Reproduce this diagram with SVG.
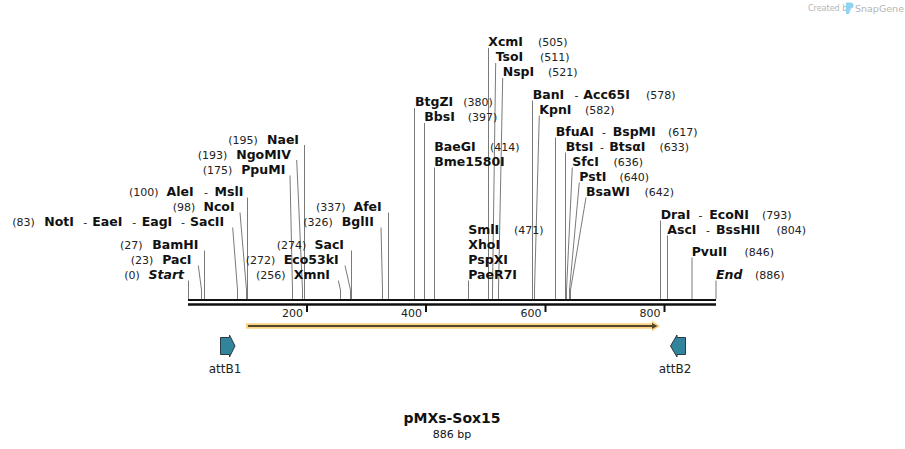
<svg xmlns="http://www.w3.org/2000/svg" width="905" height="449" viewBox="0 0 905 449">
<style>
text{font-family:"DejaVu Sans","Liberation Sans",sans-serif;fill:#111}
.n{font-size:12.5px;font-weight:bold}
.i{font-size:12.5px;font-weight:bold;font-style:italic}
.p{font-size:11px;fill:#222}
.h{font-size:11px;fill:#222}
.c line,.c polyline{stroke:#7a7a7a;stroke-width:1;fill:none}
.bb{stroke:#111;fill:none}
.tk{stroke:#111;stroke-width:2}
.tl{font-size:11px;text-anchor:end;fill:#222}
.fl{font-size:12px;text-anchor:middle;fill:#222}
.att{fill:#32849c;stroke:#2a3b42;stroke-width:1}
.logo{fill:#b4b4b4}
</style>

<!-- logo -->
<g id="logo">
<text class="logo" x="808" y="11" font-size="8">Created by</text>
<path d="M846 2.5h4.5a3 3 0 0 1 0 6h-1.5v5.5h-3z" fill="#8fd3f2"/>
<text class="logo" x="855" y="11.5" font-size="9.5">SnapGene</text>
</g>

<!-- backbone -->
<g id="backbone">
<line class="bb" x1="188" y1="300" x2="716" y2="300" stroke-width="2"/>
<line class="bb" x1="188" y1="304.5" x2="716" y2="304.5" stroke-width="2.5"/>
<line class="tk" x1="307" y1="304" x2="307" y2="312"/>
<line class="tk" x1="426" y1="304" x2="426" y2="312"/>
<line class="tk" x1="545.5" y1="304" x2="545.5" y2="312"/>
<line class="tk" x1="664.5" y1="304" x2="664.5" y2="312"/>
<text class="tl" x="303" y="316.5">200</text>
<text class="tl" x="422" y="316.5">400</text>
<text class="tl" x="541.5" y="316.5">600</text>
<text class="tl" x="660.5" y="316.5">800</text>
</g>

<!-- connectors -->
<g id="connectors" class="c">
<line x1="304.5" y1="145" x2="304.5" y2="299"/>
<polyline points="296.7,160 302.5,290 302.5,299"/>
<polyline points="290,175.5 292.5,290 292.5,299"/>
<line x1="247.5" y1="197.5" x2="247.5" y2="299"/>
<polyline points="240,212.5 246.5,290 246.5,299"/>
<polyline points="232.7,227.5 237.5,290 237.5,299"/>
<line x1="204.5" y1="250.5" x2="204.5" y2="299"/>
<polyline points="198.3,265.5 201.5,290 201.5,299"/>
<line x1="188.5" y1="280.5" x2="188.5" y2="299"/>
<line x1="388.5" y1="212.5" x2="388.5" y2="299"/>
<polyline points="381,227.5 382.5,290 382.5,299"/>
<line x1="351.5" y1="250.5" x2="351.5" y2="299"/>
<polyline points="345,265.5 350.5,290 350.5,299"/>
<polyline points="338.3,280.5 340.5,290 340.5,299"/>
<line x1="488.5" y1="48" x2="488.5" y2="299"/>
<polyline points="495.7,63 492.5,290 492.5,299"/>
<polyline points="502.7,78 498.5,290 498.5,299"/>
<line x1="414.5" y1="108" x2="414.5" y2="299"/>
<line x1="424.5" y1="123" x2="424.5" y2="299"/>
<line x1="434.5" y1="167.5" x2="434.5" y2="299"/>
<line x1="468.5" y1="280.5" x2="468.5" y2="299"/>
<line x1="532.5" y1="100.5" x2="532.5" y2="299"/>
<polyline points="539.3,115.5 534.5,290 534.5,299"/>
<line x1="555.5" y1="137.5" x2="555.5" y2="299"/>
<line x1="565.5" y1="152.5" x2="565.5" y2="299"/>
<polyline points="572.3,167.5 566.5,290 566.5,299"/>
<polyline points="579.3,182.5 569.5,290 569.5,299"/>
<polyline points="586,197.5 570.5,290 570.5,299"/>
<line x1="660.5" y1="220.5" x2="660.5" y2="299"/>
<line x1="667.5" y1="235.5" x2="667.5" y2="299"/>
<line x1="692" y1="257.5" x2="692" y2="299"/>
<line x1="716" y1="280.5" x2="716" y2="299"/>
</g>

<!-- left enzyme labels -->
<g id="NaeI"><text class="p" x="228.3" y="143.5">(195)</text><text class="n" x="267" y="143.5">NaeI</text></g>
<g id="NgoMIV"><text class="p" x="197.7" y="158.5">(193)</text><text class="n" x="236.2" y="158.5">NgoMIV</text></g>
<g id="PpuMI"><text class="p" x="202.7" y="173.5">(175)</text><text class="n" x="241.2" y="173.5">PpuMI</text></g>
<g id="AleI"><text class="p" x="129" y="195.5">(100)</text><text class="n" x="166.5" y="195.5">AleI</text><text class="h" x="204" y="195.5">-</text><text class="n" x="214.5" y="195.5">MslI</text></g>
<g id="NcoI"><text class="p" x="172.7" y="210.5">(98)</text><text class="n" x="203.5" y="210.5">NcoI</text></g>
<g id="NotI"><text class="p" x="12.3" y="225.5">(83)</text><text class="n" x="44.3" y="225.5">NotI</text><text class="h" x="83.3" y="225.5">-</text><text class="n" x="92.3" y="225.5">EaeI</text><text class="h" x="132.3" y="225.5">-</text><text class="n" x="141.7" y="225.5">EagI</text><text class="h" x="181" y="225.5">-</text><text class="n" x="190" y="225.5">SacII</text></g>
<g id="BamHI"><text class="p" x="120" y="248.5">(27)</text><text class="n" x="152.2" y="248.5">BamHI</text></g>
<g id="PacI"><text class="p" x="130.7" y="263.5">(23)</text><text class="n" x="162.2" y="263.5">PacI</text></g>
<g id="Start"><text class="p" x="124.3" y="278.5">(0)</text><text class="i" x="148.5" y="278.5">Start</text></g>
<g id="AfeI"><text class="p" x="316" y="210.5">(337)</text><text class="n" x="353.5" y="210.5">AfeI</text></g>
<g id="BglII"><text class="p" x="303.3" y="225.5">(326)</text><text class="n" x="341.8" y="225.5">BglII</text></g>
<g id="SacI"><text class="p" x="276.7" y="248.5">(274)</text><text class="n" x="314.5" y="248.5">SacI</text></g>
<g id="Eco53kI"><text class="p" x="245.7" y="263.5">(272)</text><text class="n" x="283.8" y="263.5">Eco53kI</text></g>
<g id="XmnI"><text class="p" x="256" y="278.5">(256)</text><text class="n" x="293.8" y="278.5">XmnI</text></g>

<!-- middle / right enzyme labels -->
<g id="XcmI"><text class="n" x="488.3" y="46">XcmI</text><text class="p" x="538" y="46">(505)</text></g>
<g id="TsoI"><text class="n" x="495.7" y="61">TsoI</text><text class="p" x="540" y="61">(511)</text></g>
<g id="NspI"><text class="n" x="502.7" y="76">NspI</text><text class="p" x="548" y="76">(521)</text></g>
<g id="BtgZI"><text class="n" x="415" y="106">BtgZI</text><text class="p" x="463.3" y="106">(380)</text></g>
<g id="BbsI"><text class="n" x="424.3" y="121">BbsI</text><text class="p" x="467.7" y="121">(397)</text></g>
<g id="BaeGI"><text class="n" x="434.3" y="150.5">BaeGI</text><text class="p" x="490" y="150.5">(414)</text><text class="n" x="434.3" y="165.5">Bme1580I</text></g>
<g id="SmlI"><text class="n" x="468.3" y="233.5">SmlI</text><text class="p" x="514" y="233.5">(471)</text><text class="n" x="468.3" y="248.5">XhoI</text><text class="n" x="468.3" y="263.5">PspXI</text><text class="n" x="468.3" y="278.5">PaeR7I</text></g>
<g id="BanI"><text class="n" x="532.7" y="98.5">BanI</text><text class="h" x="574.5" y="98.5">-</text><text class="n" x="583.3" y="98.5">Acc65I</text><text class="p" x="646" y="98.5">(578)</text></g>
<g id="KpnI"><text class="n" x="539.3" y="113.5">KpnI</text><text class="p" x="585" y="113.5">(582)</text></g>
<g id="BfuAI"><text class="n" x="555.7" y="135.5">BfuAI</text><text class="h" x="602" y="135.5">-</text><text class="n" x="612.7" y="135.5">BspMI</text><text class="p" x="668" y="135.5">(617)</text></g>
<g id="BtsI"><text class="n" x="565.7" y="150.5">BtsI</text><text class="h" x="600" y="150.5">-</text><text class="n" x="609.3" y="150.5">BtsαI</text><text class="p" x="659.5" y="150.5">(633)</text></g>
<g id="SfcI"><text class="n" x="572.3" y="165.5">SfcI</text><text class="p" x="613.5" y="165.5">(636)</text></g>
<g id="PstI"><text class="n" x="579.3" y="180.5">PstI</text><text class="p" x="619.5" y="180.5">(640)</text></g>
<g id="BsaWI"><text class="n" x="586" y="195.5">BsaWI</text><text class="p" x="644.5" y="195.5">(642)</text></g>
<g id="DraI"><text class="n" x="660.7" y="218.5">DraI</text><text class="h" x="698.5" y="218.5">-</text><text class="n" x="709.3" y="218.5">EcoNI</text><text class="p" x="762" y="218.5">(793)</text></g>
<g id="AscI"><text class="n" x="667.3" y="233.5">AscI</text><text class="h" x="706" y="233.5">-</text><text class="n" x="716" y="233.5">BssHII</text><text class="p" x="776.5" y="233.5">(804)</text></g>
<g id="PvuII"><text class="n" x="691.7" y="255.5">PvuII</text><text class="p" x="744.5" y="255.5">(846)</text></g>
<g id="End"><text class="i" x="716" y="278.5">End</text><text class="p" x="755" y="278.5">(886)</text></g>

<!-- ORF -->
<g id="orf">
<line x1="246" y1="326" x2="654" y2="326" stroke="#fbd27f" stroke-width="5.5"/>
<polygon points="652,320.5 660,326 652,331.5" fill="#fbd27f"/>
<line x1="248" y1="326" x2="653" y2="326" stroke="#54452f" stroke-width="2"/>
<polygon points="652,323 657.5,326 652,329" fill="#54452f"/>
</g>

<!-- features -->
<g id="attB1">
<polygon class="att" points="220.5,337.5 229.5,337.5 229.5,335 235,346 229.5,357 229.5,354.5 220.5,354.5"/>
<text class="fl" x="225" y="372.5">attB1</text>
</g>
<g id="attB2">
<polygon class="att" points="685.5,337.5 677,337.5 677,335 670.5,346 677,357 677,354.5 685.5,354.5"/>
<text class="fl" x="675" y="372.5">attB2</text>
</g>

<!-- title -->
<g id="title">
<text x="452" y="423" font-size="14" font-weight="bold" text-anchor="middle">pMXs-Sox15</text>
<text x="452" y="437.5" font-size="11" text-anchor="middle" fill="#222">886 bp</text>
</g>
</svg>
